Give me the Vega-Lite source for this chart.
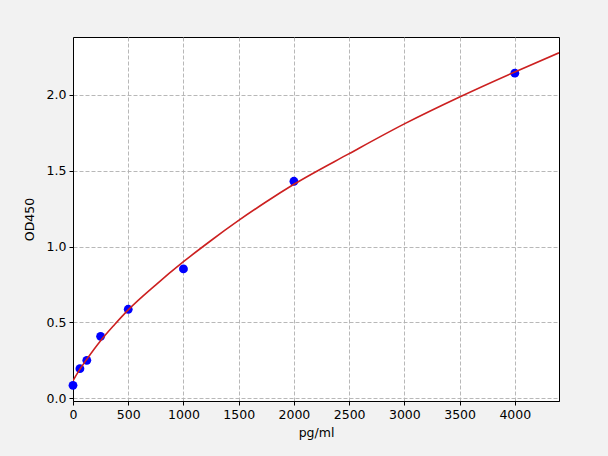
{
  "$schema": "https://vega.github.io/schema/vega-lite/v6.json",
  "autosize": "none",
  "width": 486,
  "height": 364,
  "padding": {"left": 73, "top": 37, "right": 49, "bottom": 55},
  "background": "#f2f2f2",
  "config": {
    "font": "DejaVu Sans",
    "view": {"fill": "white", "stroke": "black", "strokeWidth": 1},
    "axis": {
      "labelFont": "DejaVu Sans",
      "titleFont": "DejaVu Sans",
      "labelFontSize": 12.5,
      "titleFontSize": 12.5,
      "titleFontWeight": "normal",
      "labelColor": "black",
      "titleColor": "black",
      "labelFlush": false,
      "domain": true,
      "domainColor": "black",
      "domainWidth": 1,
      "tickColor": "black",
      "tickSize": 4,
      "labelPadding": 3,
      "grid": true,
      "gridColor": "#b0b0b0",
      "gridDash": [4, 2],
      "gridWidth": 0.9
    }
  },
  "datasets": {
    "points": [
      {"conc": 0, "od": 0.086},
      {"conc": 62.5, "od": 0.196},
      {"conc": 125, "od": 0.251},
      {"conc": 250, "od": 0.409},
      {"conc": 500, "od": 0.587},
      {"conc": 1000, "od": 0.853},
      {"conc": 2000, "od": 1.43},
      {"conc": 4000, "od": 2.142}
    ],
    "curve": [
      {"conc": 0, "od": 0.115},
      {"conc": 25, "od": 0.148},
      {"conc": 62.5, "od": 0.192},
      {"conc": 125, "od": 0.258},
      {"conc": 250, "od": 0.38},
      {"conc": 375, "od": 0.485},
      {"conc": 500, "od": 0.583},
      {"conc": 750, "od": 0.748},
      {"conc": 1000, "od": 0.9},
      {"conc": 1250, "od": 1.04},
      {"conc": 1500, "od": 1.172},
      {"conc": 1750, "od": 1.295},
      {"conc": 2000, "od": 1.41},
      {"conc": 2500, "od": 1.612},
      {"conc": 3000, "od": 1.808},
      {"conc": 3500, "od": 1.985},
      {"conc": 4000, "od": 2.15},
      {"conc": 4400, "od": 2.276}
    ]
  },
  "layer": [
    {
      "data": {"name": "points"},
      "mark": {"type": "point", "filled": true, "color": "#0000ff", "opacity": 1, "size": 78},
      "encoding": {
        "x": {"field": "conc", "type": "quantitative", "title": "pg/ml",
              "scale": {"domain": [0, 4400], "nice": false, "zero": false},
              "axis": {"values": [0, 500, 1000, 1500, 2000, 2500, 3000, 3500, 4000], "format": "d", "titlePadding": 6}},
        "y": {"field": "od", "type": "quantitative", "title": "OD450",
              "scale": {"domain": [-0.017, 2.38], "nice": false, "zero": false},
              "axis": {"values": [0, 0.5, 1, 1.5, 2], "format": ".1f", "titlePadding": 10}}
      }
    },
    {
      "data": {"name": "curve"},
      "mark": {"type": "line", "color": "#cc2020", "strokeWidth": 1.6, "interpolate": "monotone", "clip": true},
      "encoding": {
        "x": {"field": "conc", "type": "quantitative"},
        "y": {"field": "od", "type": "quantitative"}
      }
    }
  ]
}
